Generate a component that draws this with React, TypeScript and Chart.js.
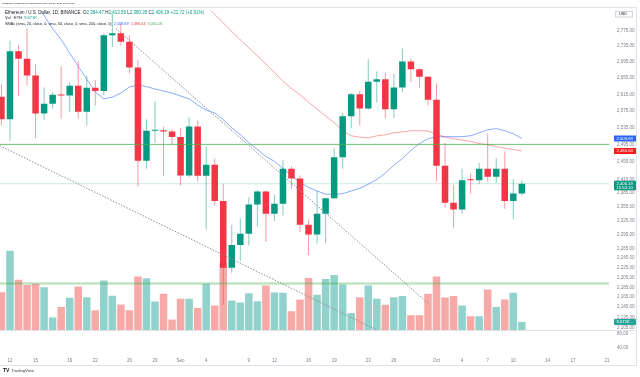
import { useEffect, useRef } from 'react';
import { Chart, registerables } from 'chart.js';

Chart.register(...registerables);

// ---- data (daily, Aug 11 2024 -> Oct 11 2024) ----
const FIRST_DAY = -1; // Aug 11 is day -1 (Aug 12 = day 0)
const OPEN = [2609, 2555, 2722, 2703, 2661, 2569, 2592, 2614, 2612, 2636, 2573, 2631, 2623, 2763, 2768, 2746, 2681, 2458, 2528, 2529, 2526,
  2513, 2425, 2538, 2424, 2449, 2368, 2225, 2273, 2297, 2360, 2389, 2340, 2362, 2440, 2418, 2316, 2295, 2340, 2374, 2466, 2562, 2615, 2581, 2646, 2652, 2579, 2632, 2696, 2677, 2658,
  2602, 2447, 2364, 2349, 2415, 2414, 2440, 2422, 2440, 2368, 2384.47];
const HIGH = [2640, 2749, 2738, 2780, 2690, 2632, 2620, 2684, 2645, 2697, 2661, 2650, 2768, 2820, 2792, 2762, 2700, 2555, 2598, 2537, 2531,
  2535, 2560, 2552, 2491, 2463, 2406, 2316, 2330, 2376, 2392, 2391, 2383, 2460, 2445, 2425, 2328, 2390, 2375, 2487, 2570, 2618, 2623, 2702, 2671, 2669, 2665, 2729, 2704, 2680, 2660,
  2642, 2499, 2404, 2440, 2430, 2453, 2521, 2464, 2480, 2417, 2413.56];
const LOW = [2540, 2504, 2611, 2636, 2510, 2554, 2580, 2557, 2572, 2557, 2540, 2588, 2613, 2733, 2736, 2666, 2400, 2440, 2500, 2423, 2495,
  2402, 2420, 2411, 2306, 2358, 2150, 2215, 2240, 2272, 2312, 2279, 2324, 2336, 2395, 2300, 2252, 2276, 2277, 2373, 2440, 2535, 2540, 2578, 2595, 2558, 2558, 2621, 2645, 2630, 2588,
  2412, 2353, 2310, 2340, 2384, 2405, 2411, 2408, 2351, 2328, 2380.35];
const CLOSE = [2555, 2722, 2703, 2661, 2569, 2592, 2614, 2612, 2636, 2573, 2631, 2623, 2763, 2768, 2746, 2681, 2458, 2528, 2529, 2526, 2513,
  2425, 2538, 2424, 2449, 2368, 2225, 2273, 2297, 2360, 2389, 2340, 2362, 2440, 2418, 2316, 2295, 2340, 2374, 2466, 2562, 2615, 2581, 2646, 2652, 2579, 2632, 2696, 2677, 2658, 2602,
  2447, 2364, 2349, 2414, 2414, 2440, 2422, 2440, 2368, 2384.47, 2406.19];
const VOLUME_K = [44.6, 93.2, 59.1, 53.2, 54.4, 50.4, 14.8, 27.1, 38.1, 51.3, 38.8, 23.3, 58.3, 40.4, 30.3, 23.3, 62.9, 60.9, 33.8, 42.8, 12.5,
  36.9, 36.9, 26.0, 54.4, 29.1, 79.6, 35.0, 32.6, 43.5, 34.1, 52.4, 44.3, 43.9, 22.1, 36.1, 61.4, 41.6, 60.2, 64.9, 53.6, 20.2, 38.8, 52.4, 36.9, 29.9, 38.8, 40.0, 17.5, 17.5, 42.8,
  62.9, 38.4, 40.0, 29.1, 16.3, 16.3, 47.8, 27.1, 36.1, 43.9, 9.671];
const SMA20 = [null, null, null, 2879, 2848, 2814, 2780, 2752, 2717, 2684, 2652, 2621, 2604, 2608, 2618, 2633, 2638, 2634, 2628, 2623, 2618,
  2611, 2604, 2589, 2577, 2570, 2554, 2535, 2519, 2500, 2484, 2468, 2457, 2441, 2425, 2409, 2398, 2390, 2383, 2383, 2384, 2390, 2396, 2405, 2416, 2430, 2448, 2463, 2482, 2498, 2509,
  2514, 2514, 2514, 2514, 2516, 2523, 2530, 2533, 2528, 2521, 2509.69];
const SMA50 = [null, null, null, null, null, null, null, null, null, null, null, null, null, null, null, null, null, null, null, null, null,
  null, null, null, 2839, 2817, 2795, 2773, 2751, 2731, 2710, 2690, 2669, 2647, 2629, 2614, 2596, 2579, 2563, 2547, 2528, 2516, 2513, 2511, 2516, 2518, 2523, 2525, 2528, 2528, 2527,
  2520, 2513, 2509, 2506, 2503, 2498, 2495, 2491, 2487, 2484, 2480.64];
const SMA200_LAST = 3061.06;

const TICK_DAYS = [0, 3, 7, 10, 14, 17, 20, 23, 28, 31, 35, 38, 42, 45, 50, 53, 56, 59, 63, 66, 70];
const TICK_LABELS = ['12', '15', '19', '22', '26', '29', 'Sep', '4', '9', '12', '16', '19', '23', '26', 'Oct', '4', '7', '10', '14', '17', '21'];
const PRICE_TICKS = [2775, 2735, 2695, 2655, 2615, 2575, 2535, 2495, 2455, 2415, 2385, 2355, 2325, 2295, 2265, 2245, 2225, 2205, 2185, 2165, 2145, 2125, 2105];
const PANE_TICKS = ['80.00', '40.00'];

// drawings
const TREND_UPPER_DAYS = [12.43, 49.0];
const TREND_UPPER_PRICES = [2780, 2153];
const TREND_LOWER_DAYS = [-1.2, 43.0];
const TREND_LOWER_PRICES = [2493, 2100];
const H_LEVEL = 2496;
const SUPPORT_LEVEL = 2193;

const TITLE = 'TimBaldini published on TradingView.com, Oct 11, 2024 08:06 UTC';
const SYMBOL = 'Ethereum / U.S. Dollar, 1D, BINANCE';
const COUNTDOWN = '15:53:10';

// axis ranges
const X_MIN = -1.17;
const X_MAX = 70.22;
const P_MIN = 2057.4;
const P_MAX = 2826.7;
const V_MIN = -25.6;
const V_MAX = 375.1;

const FONT = '"Liberation Sans", Arial, sans-serif';
const UP = '#089981';
const DOWN = '#f23645';
const TXT = '#131722';
const AXIS_TXT = '#7d808a';

const fmt = (v: number) => v.toLocaleString('en-US', { minimumFractionDigits: 2, maximumFractionDigits: 2 });

function drawSegments(ctx: CanvasRenderingContext2D, segs: [string, string][], x: number, y: number, width: number) {
  ctx.font = `10px ${FONT}`;
  const total = segs.reduce((s, [t]) => s + ctx.measureText(t).width, 0);
  const size = (10 * width) / total;
  ctx.font = `${size}px ${FONT}`;
  ctx.textBaseline = 'middle';
  ctx.textAlign = 'left';
  let cx = x;
  for (const [t, c] of segs) {
    ctx.fillStyle = c;
    ctx.fillText(t, cx, y);
    cx += ctx.measureText(t).width;
  }
}

function tag(ctx: CanvasRenderingContext2D, y: number, lines: string[], bg: string) {
  const h = lines.length === 1 ? 6 : 9.5;
  const top = lines.length === 1 ? y - h / 2 : y - 3;
  ctx.fillStyle = bg;
  ctx.fillRect(614, top, 22, h);
  ctx.fillStyle = '#ffffff';
  ctx.font = `4.2px ${FONT}`;
  ctx.textAlign = 'left';
  ctx.textBaseline = 'middle';
  lines.forEach((t, i) => ctx.fillText(t, 616.5, top + 3 + i * 3.8));
}

const tvPlugin = {
  id: 'tvDecor',
  beforeDraw(chart: any) {
    const ctx = chart.ctx;
    ctx.save();
    ctx.fillStyle = '#ffffff';
    ctx.fillRect(0, 0, chart.width, chart.height);
    ctx.restore();
  },
  afterDraw(chart: any) {
    const ctx: CanvasRenderingContext2D = chart.ctx;
    const y = chart.scales.y;
    const yv = chart.scales.yv;
    ctx.save();
    // frame lines
    ctx.strokeStyle = '#e0e3eb';
    ctx.lineWidth = 1;
    ctx.beginPath();
    ctx.moveTo(0, 7.5); ctx.lineTo(637, 7.5);
    ctx.moveTo(0, 330.5); ctx.lineTo(637, 330.5);
    ctx.moveTo(0, 365.5); ctx.lineTo(637, 365.5);
    ctx.moveTo(636.5, 7); ctx.lineTo(636.5, 366);
    ctx.stroke();

    // header
    const n = CLOSE.length - 1;
    const chg = CLOSE[n] - CLOSE[n - 1];
    const pct = (chg / CLOSE[n - 1]) * 100;
    const sign = chg >= 0 ? '+' : '−';
    const col = CLOSE[n] >= OPEN[n] ? UP : DOWN;
    drawSegments(ctx, [[TITLE, TXT]], 2, 3.5, 73);
    drawSegments(ctx, [
      [SYMBOL + '  ', TXT], ['O', TXT], [fmt(OPEN[n]) + ' ', col], ['H', TXT], [fmt(HIGH[n]) + ' ', col],
      ['L', TXT], [fmt(LOW[n]) + ' ', col], ['C', TXT], [fmt(CLOSE[n]) + ' ', col],
      [`${sign}${Math.abs(chg).toFixed(2)} (${sign}${Math.abs(pct).toFixed(2)}%)`, col],
    ], 5, 12.5, 200);
    drawSegments(ctx, [['Vol · ETH  ', TXT], [VOLUME_K[n].toFixed(3) + 'K', UP]], 5, 18, 32);
    drawSegments(ctx, [
      ['SMAs (sma, 20, close, 0, sma, 50, close, 0, sma, 200, close, 0)  ', TXT],
      [fmt(SMA20[n] as number) + '  ', '#2962ff'], [fmt(SMA50[n] as number) + '  ', DOWN], [fmt(SMA200_LAST), '#4caf50'],
    ], 5, 23.5, 158);

    // USD box
    ctx.strokeStyle = '#d1d4dc';
    ctx.strokeRect(615.5, 11.5, 17, 5.5);
    ctx.fillStyle = TXT;
    ctx.font = `3.8px ${FONT}`;
    ctx.textBaseline = 'middle';
    ctx.textAlign = 'left';
    ctx.fillText('USD', 619, 14.3);

    // price tags
    tag(ctx, y.getPixelForValue(SMA20[n] as number), [fmt(SMA20[n] as number)], '#2962ff');
    tag(ctx, y.getPixelForValue(SMA50[n] as number), [fmt(SMA50[n] as number)], '#ff1a1a');
    tag(ctx, y.getPixelForValue(CLOSE[n]), [fmt(CLOSE[n]), COUNTDOWN], UP);
    tag(ctx, yv.getPixelForValue(VOLUME_K[n]), [VOLUME_K[n].toFixed(3) + 'K'], '#26a69a');

    // lower pane scale labels
    ctx.fillStyle = AXIS_TXT;
    ctx.font = `4.5px ${FONT}`;
    PANE_TICKS.forEach((t, i) => ctx.fillText(t, 617, 334 + i * 14));

    // logo
    ctx.fillStyle = TXT;
    ctx.font = `bold 5px ${FONT}`;
    ctx.fillText('TV', 3, 371);
    ctx.font = `4.2px ${FONT}`;
    ctx.fillStyle = '#444';
    ctx.fillText('TradingView', 11, 371);
    ctx.restore();
  },
};

export default function App() {
  const ref = useRef<HTMLCanvasElement | null>(null);
  useEffect(() => {
    if (!ref.current) return;
    const days = OPEN.map((_, i) => i + FIRST_DAY);
    const up = OPEN.map((o, i) => CLOSE[i] >= o);
    const pts = (arr: (number | null)[]) =>
      arr.map((v, i) => (v == null ? null : { x: days[i], y: v })).filter(Boolean) as { x: number; y: number }[];
    const flat = (v: number) => [{ x: X_MIN - 2, y: v }, { x: X_MAX + 2, y: v }];
    const chart = new Chart(ref.current, {
      type: 'bar',
      data: {
        datasets: [
          {
            type: 'bar', label: 'Volume', yAxisID: 'yv', order: 10, grouped: false, barThickness: 7.5, inflateAmount: 0,
            data: days.map((d, i) => ({ x: d, y: [0, VOLUME_K[i]] })) as any,
            backgroundColor: up.map((u) => (u ? 'rgba(38,166,154,0.5)' : 'rgba(239,83,80,0.5)')),
          },
          {
            type: 'line', label: 'SMA50', yAxisID: 'y', order: 6, data: pts(SMA50) as any,
            borderColor: 'rgba(242,54,69,0.45)', borderWidth: 1, pointRadius: 0, tension: 0,
          },
          {
            type: 'line', label: 'SMA20', yAxisID: 'y', order: 6, data: pts(SMA20) as any,
            borderColor: 'rgba(41,98,255,0.55)', borderWidth: 1, pointRadius: 0, tension: 0,
          },
          {
            type: 'line', label: 'Last', yAxisID: 'y', order: 7, data: flat(CLOSE[CLOSE.length - 1]) as any,
            borderColor: 'rgba(8,153,129,0.22)', borderWidth: 1, pointRadius: 0,
          },
          {
            type: 'bar', label: 'Wicks', yAxisID: 'y', order: 4, grouped: false, barThickness: 1, inflateAmount: 0,
            data: days.map((d, i) => ({ x: d, y: [LOW[i], HIGH[i]] })) as any,
            backgroundColor: up.map((u) => (u ? 'rgba(8,153,129,0.5)' : 'rgba(242,54,69,0.5)')),
          },
          {
            type: 'bar', label: 'Bodies', yAxisID: 'y', order: 3, grouped: false, barThickness: 6.5, minBarLength: 1, inflateAmount: 0,
            data: days.map((d, i) => ({ x: d, y: [OPEN[i], CLOSE[i]] })) as any,
            backgroundColor: up.map((u) => (u ? UP : DOWN)),
          },
          {
            type: 'line', label: 'Level', yAxisID: 'y', order: 1, data: flat(H_LEVEL) as any,
            borderColor: 'rgba(76,175,80,0.8)', borderWidth: 1, pointRadius: 0,
          },
          {
            type: 'line', label: 'Support', yAxisID: 'y', order: 1, data: flat(SUPPORT_LEVEL) as any,
            borderColor: 'rgba(76,175,80,0.35)', borderWidth: 2.5, pointRadius: 0,
          },
          {
            type: 'line', label: 'TrendUpper', yAxisID: 'y', order: 1,
            data: TREND_UPPER_DAYS.map((d, i) => ({ x: d, y: TREND_UPPER_PRICES[i] })) as any,
            borderColor: '#8a8d96', borderWidth: 1, borderDash: [1.5, 1.5], pointRadius: 0,
          },
          {
            type: 'line', label: 'TrendLower', yAxisID: 'y', order: 1,
            data: TREND_LOWER_DAYS.map((d, i) => ({ x: d, y: TREND_LOWER_PRICES[i] })) as any,
            borderColor: '#8a8d96', borderWidth: 1, borderDash: [1.5, 1.5], pointRadius: 0,
          },
        ],
      },
      options: {
        responsive: false,
        animation: false,
        events: [],
        layout: { padding: { top: 8, left: 0, right: 0, bottom: 0 } },
        plugins: { legend: { display: false }, tooltip: { enabled: false }, title: { display: false } },
        scales: {
          x: {
            type: 'linear', min: X_MIN, max: X_MAX, offset: false, bounds: 'data',
            grid: { display: false, drawTicks: false }, border: { display: false },
            afterBuildTicks: (s: any) => { s.ticks = TICK_DAYS.map((v) => ({ value: v })); },
            afterFit: (s: any) => { s.height = 25; },
            ticks: {
              autoSkip: false, maxRotation: 0, padding: 6, color: AXIS_TXT,
              font: { size: 4.5, family: FONT },
              callback: (_v: any, i: number) => TICK_LABELS[i] ?? '',
            },
          },
          y: {
            type: 'logarithmic', position: 'right', min: P_MIN, max: P_MAX, bounds: 'data',
            grid: { display: false, drawTicks: false }, border: { display: false },
            afterBuildTicks: (s: any) => { s.ticks = PRICE_TICKS.map((v) => ({ value: v })); },
            afterFit: (s: any) => { s.width = 31; },
            ticks: {
              padding: 8, color: AXIS_TXT, font: { size: 4.5, family: FONT },
              callback: (v: any) => fmt(Number(v)),
            },
          },
          yv: { type: 'linear', display: false, min: V_MIN, max: V_MAX, bounds: 'data' },
        },
      } as any,
      plugins: [tvPlugin],
    });
    return () => chart.destroy();
  }, []);
  return (
    <div style={{ position: 'fixed', left: 0, top: 0, width: 640, height: 377, background: '#fff' }}>
      <canvas ref={ref} width={640} height={377} style={{ display: 'block' }} />
    </div>
  );
}
